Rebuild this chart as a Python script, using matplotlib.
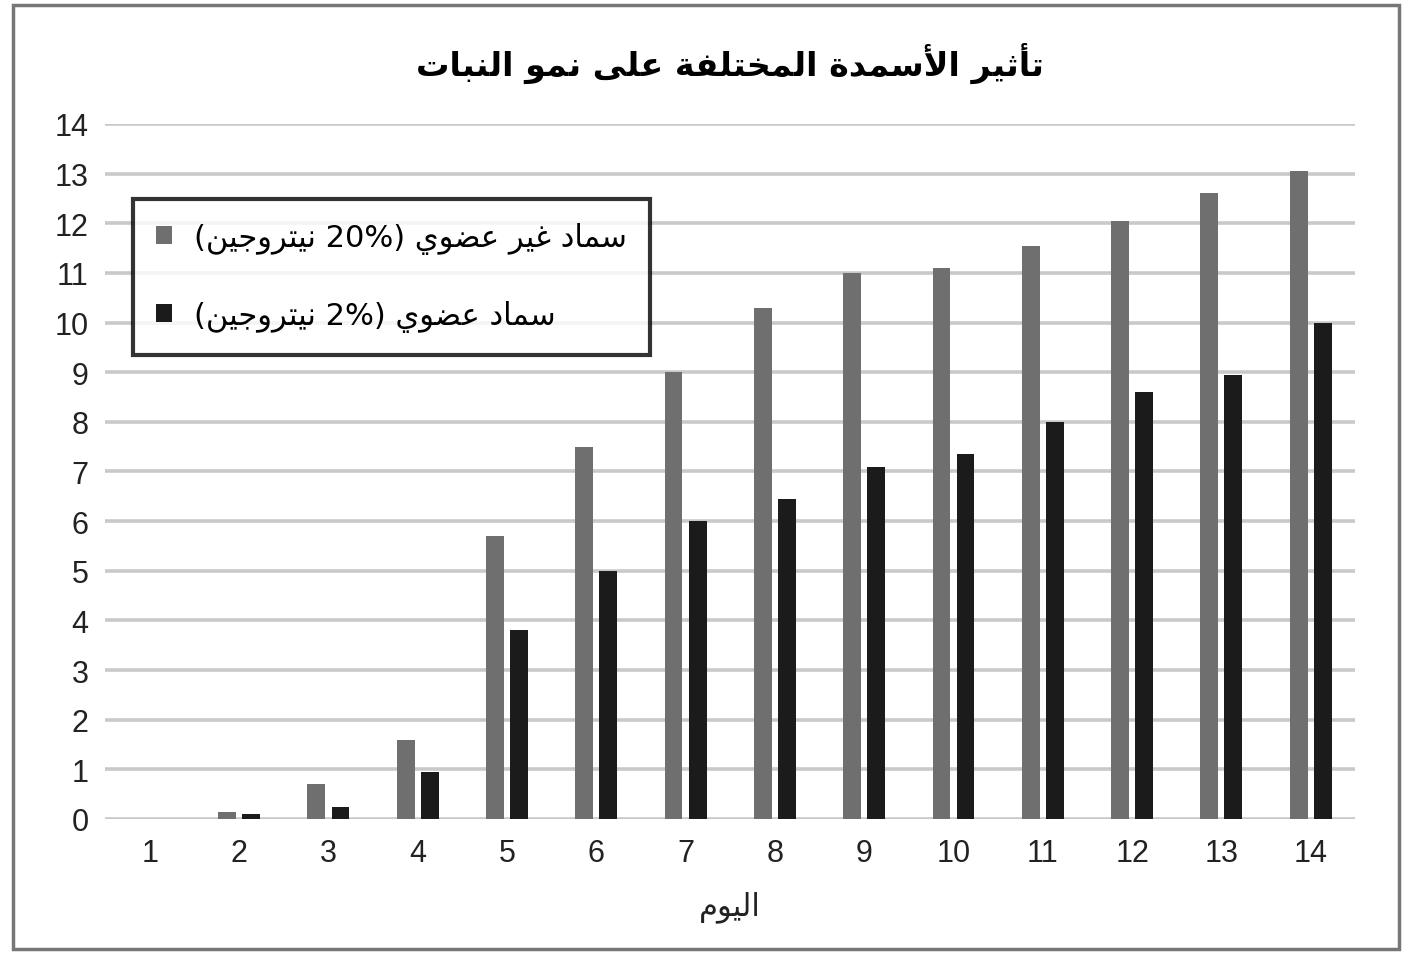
import numpy as np
import matplotlib
matplotlib.use("Agg")
import matplotlib.pyplot as plt
from matplotlib.patches import Rectangle

# data
days = list(range(1, 15))
inorganic = [0, 0.15, 0.7, 1.6, 5.7, 7.5, 9.0, 10.3, 11.0, 11.1, 11.55, 12.05, 12.6, 13.05]
organic = [0, 0.1, 0.25, 0.95, 3.8, 5.0, 6.0, 6.45, 7.1, 7.35, 8.0, 8.6, 8.95, 10.0]

title_ar = "تأثير الأسمدة المختلفة على نمو النبات"
xlabel_ar = "اليوم"

# minimal arabic shaping (presentation forms), matplotlib has no shaper
FORMS = {
    "ا": (0xFE8D, 0xFE8E, None, None),
    "أ": (0xFE83, 0xFE84, None, None),
    "ب": (0xFE8F, 0xFE90, 0xFE91, 0xFE92),
    "ة": (0xFE93, 0xFE94, None, None),
    "ت": (0xFE95, 0xFE96, 0xFE97, 0xFE98),
    "ث": (0xFE99, 0xFE9A, 0xFE9B, 0xFE9C),
    "ج": (0xFE9D, 0xFE9E, 0xFE9F, 0xFEA0),
    "خ": (0xFEA5, 0xFEA6, 0xFEA7, 0xFEA8),
    "د": (0xFEA9, 0xFEAA, None, None),
    "ر": (0xFEAD, 0xFEAE, None, None),
    "س": (0xFEB1, 0xFEB2, 0xFEB3, 0xFEB4),
    "ض": (0xFEBD, 0xFEBE, 0xFEBF, 0xFEC0),
    "ع": (0xFEC9, 0xFECA, 0xFECB, 0xFECC),
    "غ": (0xFECD, 0xFECE, 0xFECF, 0xFED0),
    "ف": (0xFED1, 0xFED2, 0xFED3, 0xFED4),
    "ل": (0xFEDD, 0xFEDE, 0xFEDF, 0xFEE0),
    "م": (0xFEE1, 0xFEE2, 0xFEE3, 0xFEE4),
    "ن": (0xFEE5, 0xFEE6, 0xFEE7, 0xFEE8),
    "و": (0xFEED, 0xFEEE, None, None),
    "ى": (0xFEEF, 0xFEF0, None, None),
    "ي": (0xFEF1, 0xFEF2, 0xFEF3, 0xFEF4),
}
LAMALEF = {"أ": (0xFEF7, 0xFEF8), "ا": (0xFEFB, 0xFEFC)}


def joins_next(c):
    return c in FORMS and FORMS[c][2] is not None


def shape(text):
    res = []
    i = 0
    n = len(text)
    while i < n:
        c = text[i]
        if c not in FORMS:
            res.append(c)
            i += 1
            continue
        p = i > 0 and joins_next(text[i - 1])
        if c == "ل" and i + 1 < n and text[i + 1] in LAMALEF:
            res.append(chr(LAMALEF[text[i + 1]][1 if p else 0]))
            i += 2
            continue
        nx = i + 1 < n and text[i + 1] in FORMS and joins_next(c)
        iso, fin, ini, med = FORMS[c]
        if p and nx:
            f = med
        elif p:
            f = fin
        elif nx:
            f = ini
        else:
            f = iso
        res.append(chr(f))
        i += 1
    return "".join(reversed(res))


label_inorg = "(" + shape("نيتروجين") + " 20%) " + shape("سماد غير عضوي")
label_org = "(" + shape("نيتروجين") + " 2%) " + shape("سماد عضوي")

plt.rcParams["font.family"] = ["DejaVu Sans"]

fig = plt.figure(figsize=(14.03, 9.54), dpi=100)
ax = fig.add_axes([0.075, 0.1405, 0.891, 0.7285])

x = np.array(days)
w = 0.2
off = 0.135
ax.bar(x - off, inorganic, w, color="#6f6f6f", label=label_inorg, zorder=3)
ax.bar(x + off, organic, w, color="#1b1b1b", label=label_org, zorder=3)

ax.set_xlim(0.5, 14.5)
ax.set_ylim(0, 14)
ax.set_yticks(range(0, 15))
ax.set_xticks(days)
ax.yaxis.grid(True, color="#c9c9c9", linewidth=2.6, zorder=0)
ax.set_axisbelow(True)
for s in ax.spines.values():
    s.set_visible(False)
ax.tick_params(axis="both", length=0, labelsize=22, labelcolor="#222222")
ax.tick_params(axis="y", pad=12)
ax.tick_params(axis="x", pad=14)
for lab in ax.get_xticklabels() + ax.get_yticklabels():
    lab.set_family("Liberation Sans")

ax.set_xlabel(shape(xlabel_ar), fontsize=22, labelpad=16, color="#222222")
fig.suptitle(shape(title_ar), fontsize=24, fontweight="bold", y=0.955, x=0.52)

leg = ax.legend(loc="upper left", bbox_to_anchor=(0.022, 0.892), fontsize=22,
                frameon=True, fancybox=False, edgecolor="black",
                handlelength=0.55, handleheight=0.55, handletextpad=0.7,
                labelspacing=1.5, borderpad=0.75, borderaxespad=0)
leg.get_frame().set_linewidth(3)
leg.set_zorder(5)

# outer frame of the picture
fig.patches.append(Rectangle((0.0095, 0.004), 0.988, 0.99, transform=fig.transFigure,
                             fill=False, edgecolor="#777777", linewidth=2.5))

plt.savefig("out.png", dpi=100)
